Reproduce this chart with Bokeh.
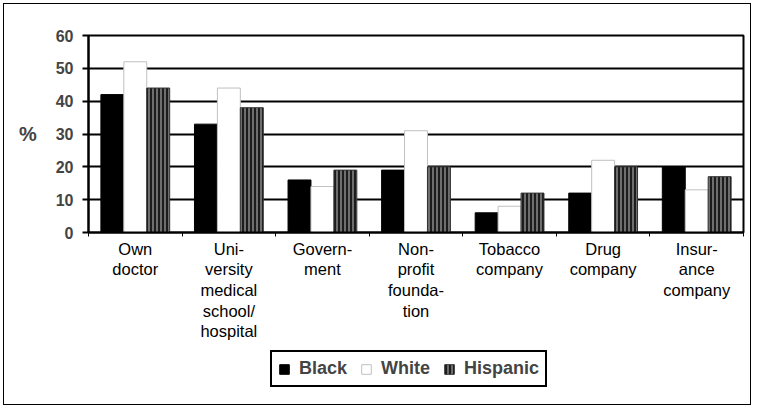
from bokeh.plotting import figure
from bokeh.layouts import column
from bokeh.models import Range1d, FixedTicker, Legend, LegendItem, ColumnDataSource
from bokeh.embed import file_html
from bokeh.resources import INLINE

categories = ["Own\ndoctor", "Uni-\nversity\nmedical\nschool/\nhospital", "Govern-\nment",
              "Non-\nprofit\nfounda-\ntion", "Tobacco\ncompany", "Drug\ncompany", "Insur-\nance\ncompany"]
series = ["Black", "White", "Hispanic"]
black = [42, 33, 16, 19, 6, 12, 20]
white = [52, 44, 14, 31, 8, 22, 13]
hispanic = [44, 38, 19, 20, 12, 20, 17]
y_ticks = [0, 10, 20, 30, 40, 50, 60]

FONT = "Liberation Sans"
n = len(categories)
centers = list(range(1, n + 1))
bw = 0.245

STYLES = [
    dict(fill_color="black", line_color="black"),
    dict(fill_color="white", line_color="#c0c0c0", line_width=1),
    dict(fill_color="#6e6e6e", line_color="#333333", hatch_pattern="vertical_line",
         hatch_color="black", hatch_scale=4, hatch_weight=1.5),
]

W = 746
H1 = 346
H2 = 54

p = figure(width=W, height=H1, x_range=Range1d(0.5, n + 0.5), y_range=Range1d(0, 60),
           output_backend="svg", toolbar_location=None,
           min_border_left=84, min_border_right=7, min_border_top=31, min_border_bottom=118)

src = ColumnDataSource(dict(
    xb=[c - bw for c in centers], xw=centers, xh=[c + bw for c in centers],
    black=black, white=white, hispanic=hispanic))

cols = ["black", "white", "hispanic"]
xs = ["xb", "xw", "xh"]
for xc, yc, st in zip(xs, cols, STYLES):
    p.vbar(x=xc, top=yc, width=bw, source=src, **st)

# y axis
p.yaxis.ticker = FixedTicker(ticks=y_ticks)
p.yaxis.major_label_text_font = FONT
p.yaxis.major_label_text_font_style = "bold"
p.yaxis.major_label_text_font_size = "16px"
p.yaxis.major_label_standoff = 9
p.yaxis.major_tick_out = 6
p.yaxis.major_tick_in = 0
p.yaxis.minor_tick_line_color = None
p.yaxis.axis_line_color = "black"
p.yaxis.axis_line_width = 2
p.yaxis.major_tick_line_width = 2
p.yaxis.axis_label = "%"
p.yaxis.axis_label_text_font = FONT
p.yaxis.axis_label_text_font_style = "bold"
p.yaxis.axis_label_text_font_size = "20px"
p.yaxis.axis_label_standoff = 16
if hasattr(p.yaxis[0], "axis_label_orientation"):
    p.yaxis.axis_label_orientation = "horizontal"

# x axis
p.xaxis.ticker = FixedTicker(ticks=centers, minor_ticks=[c - 0.5 for c in centers] + [n + 0.5])
p.xaxis.major_label_overrides = {c: lab for c, lab in zip(centers, categories)}
p.xaxis.major_label_text_font = FONT
p.xaxis.major_label_text_font_size = "16.5px"
p.xaxis.major_label_text_color = "black"
p.xaxis.major_label_text_line_height = 1.15
p.xaxis.major_tick_line_color = None
p.xaxis.major_tick_out = 0
p.xaxis.major_label_standoff = 3
p.xaxis.minor_tick_out = 4
p.xaxis.minor_tick_in = 0
p.xaxis.minor_tick_line_color = "black"
p.xaxis.axis_line_color = "black"
p.xaxis.axis_line_width = 2

p.xgrid.grid_line_color = None
p.ygrid.ticker = FixedTicker(ticks=y_ticks)
p.ygrid.grid_line_color = "black"
p.ygrid.grid_line_width = 2
p.outline_line_color = "black"
p.outline_line_width = 2
p.background_fill_color = "white"

# legend figure (same data, range set so no bars are visible here)
lg = figure(width=W, height=H2, x_range=Range1d(0, 1), y_range=Range1d(1000, 1001),
            output_backend="svg", toolbar_location=None, x_axis_type=None, y_axis_type=None,
            min_border=0)
lg.outline_line_color = None
lg.grid.grid_line_color = None
lrs = [lg.vbar(x=xc, top=yc, width=bw, source=src, **st) for xc, yc, st in zip(xs, cols, STYLES)]
legend = Legend(items=[LegendItem(label=s, renderers=[r]) for s, r in zip(series, lrs)],
                location=(182, 17), orientation="horizontal", margin=0,
                label_text_font=FONT, label_text_font_style="bold", label_text_font_size="18px",
                glyph_width=12, glyph_height=12, label_standoff=9, spacing=13, padding=6,
                border_line_color="black", border_line_width=2, border_line_alpha=1,
                background_fill_alpha=1)
lg.add_layout(legend, "center")

layout = column(p, lg, spacing=0)
layout.styles = {"border": "1px solid black", "margin": "3px"}

open("out.html", "w").write(file_html(layout, INLINE))
